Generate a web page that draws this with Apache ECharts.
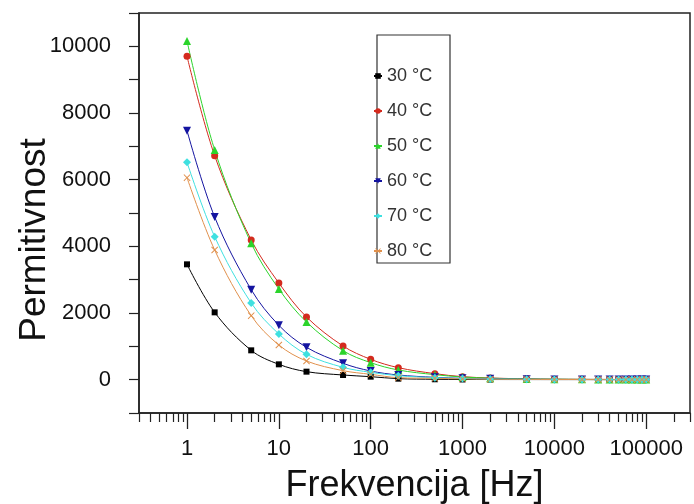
<!DOCTYPE html>
<html>
<head>
<meta charset="utf-8">
<script src="https://cdn.jsdelivr.net/npm/echarts@6/dist/echarts.min.js"></script>
<style>
  html, body { margin: 0; padding: 0; background: #fff; }
  #chart { width: 694px; height: 504px; }
</style>
</head>
<body>
<div id="chart"></div>
<script>
// frekvencija [Hz]
var freq = [1, 2, 5, 10, 20, 50, 100, 200, 500, 1000, 2000, 5000, 10000, 20000,
            30000, 40000, 50000, 60000, 70000, 80000, 90000, 100000];
var names = ['30 °C', '40 °C', '50 °C', '60 °C', '70 °C', '80 °C'];
var t30 = [3460, 2020, 880, 460, 240, 140, 90, 30, 12, 6, 4, 3, 2, 2, 1, 1, 1, 1, 1, 1, 1, 1];
var t40 = [9700, 6720, 4190, 2900, 1880, 1010, 610, 360, 180, 90, 50, 25, 15, 10, 8, 7, 6, 5, 5, 4, 4, 4];
var t50 = [10160, 6890, 4090, 2720, 1730, 870, 510, 290, 150, 80, 45, 22, 14, 9, 7, 6, 5, 5, 4, 4, 4, 3];
var t60 = [7470, 4880, 2700, 1630, 970, 490, 260, 140, 70, 40, 25, 13, 8, 6, 5, 4, 4, 3, 3, 3, 3, 3];
var t70 = [6520, 4290, 2300, 1370, 760, 370, 220, 120, 60, 35, 20, 11, 7, 5, 4, 4, 3, 3, 3, 3, 3, 3];
var t80 = [6060, 3890, 1920, 1040, 560, 270, 160, 60, 40, 25, 15, 9, 6, 4, 3, 3, 3, 2, 2, 2, 2, 2];
var values = [t30, t40, t50, t60, t70, t80];

var xMajor = [1, 10, 100, 1000, 10000, 100000];
var xMinor = [];
[0.1, 1, 10, 100, 1000, 10000, 100000].forEach(function (d) {
    for (var k = 2; k <= 9; k++) {
        var v = d * k;
        if (v >= 0.3 && v <= 300000) xMinor.push(v);
    }
});
var yLabels = [0, 2000, 4000, 6000, 8000, 10000];
var yTicks = [-1000, 0, 1000, 2000, 3000, 4000, 5000, 6000, 7000, 8000, 9000, 10000, 11000];

var colors = ['#000000', '#d42a1e', '#2bd42b', '#1414a0', '#3ee0e0', '#e0904c'];
var crossPath = 'path://M0,1L1,0L5,4L9,0L10,1L6,5L10,9L9,10L5,6L1,10L0,9L4,5Z';
var symbols = ['rect', 'circle', 'triangle', 'triangle', 'diamond', crossPath];
var rotates = [0, 0, 0, 180, 0, 0];
var sizes = [6, 7, 8, 8, 8, 7];

var font = 'Liberation Sans, Arial, sans-serif';
var plain = function (v) { return String(Math.round(v)); };

var series = values.map(function (vals, i) {
    return {
        name: names[i],
        type: 'line',
        xAxisIndex: 0,
        smooth: 0.35,
        data: freq.map(function (f, j) { return [f, vals[j]]; }),
        symbol: symbols[i],
        symbolRotate: rotates[i],
        symbolSize: sizes[i],
        showAllSymbol: true,
        lineStyle: { width: 1, color: colors[i] },
        itemStyle: { color: colors[i] }
    };
});

var myChart = echarts.init(document.getElementById('chart'), null, { renderer: 'canvas' });
myChart.setOption({
    animation: false,
    textStyle: { fontFamily: font },
    grid: {
        left: 139, right: 4, top: 13, bottom: 91,
        show: true, borderColor: '#222', borderWidth: 1.5,
        containLabel: false, outerBoundsMode: 'none'
    },
    legend: {
        data: names,
        orient: 'vertical',
        left: 373,
        top: 66,
        itemWidth: 8,
        itemHeight: 7,
        itemGap: 15,
        itemStyle: { borderWidth: 0 },
        textStyle: { fontSize: 18, color: '#333', fontFamily: font, lineHeight: 20 },
        padding: 0
    },
    graphic: [{
        type: 'rect',
        shape: { x: 377, y: 35, width: 73, height: 228 },
        style: { fill: 'none', stroke: '#333', lineWidth: 1.2 },
        z: -1
    }],
    xAxis: [{
        type: 'log',
        logBase: 10,
        min: 0.3,
        max: 300000,
        position: 'bottom',
        name: 'Frekvencija [Hz]',
        nameLocation: 'middle',
        nameGap: 55,
        nameTextStyle: { fontSize: 36, color: '#111', fontFamily: font },
        axisLine: { onZero: false, lineStyle: { color: '#222', width: 1.5 } },
        axisTick: { show: true, length: 16, inside: false, customValues: xMajor, lineStyle: { color: '#222', width: 1.3 } },
        axisLabel: { customValues: xMajor, formatter: plain, fontSize: 22, color: '#111', margin: 25, fontFamily: font },
        splitLine: { show: false },
        minorTick: { show: false }
    }, {
        type: 'log',
        logBase: 10,
        min: 0.3,
        max: 300000,
        position: 'bottom',
        axisLine: { show: false, onZero: false },
        axisTick: { show: true, length: 9, customValues: xMinor, lineStyle: { color: '#222', width: 1.2 } },
        axisLabel: { show: false },
        splitLine: { show: false }
    }],
    yAxis: {
        type: 'value',
        min: -1000,
        max: 11000,
        interval: 1000,
        name: 'Permitivnost',
        nameLocation: 'middle',
        nameGap: 86,
        nameMoveOverlap: false,
        nameRotate: 90,
        nameTextStyle: { fontSize: 37, color: '#111', fontFamily: font, padding: [0, 54, 0, 0] },
        axisLine: { show: true, onZero: false, lineStyle: { color: '#222', width: 1.5 } },
        axisTick: { show: true, length: 10, customValues: yTicks, lineStyle: { color: '#222', width: 1.2 } },
        axisLabel: { customValues: yLabels, formatter: plain, fontSize: 22, color: '#111', margin: 28, fontFamily: font },
        splitLine: { show: false }
    },
    series: series
});
</script>
</body>
</html>
